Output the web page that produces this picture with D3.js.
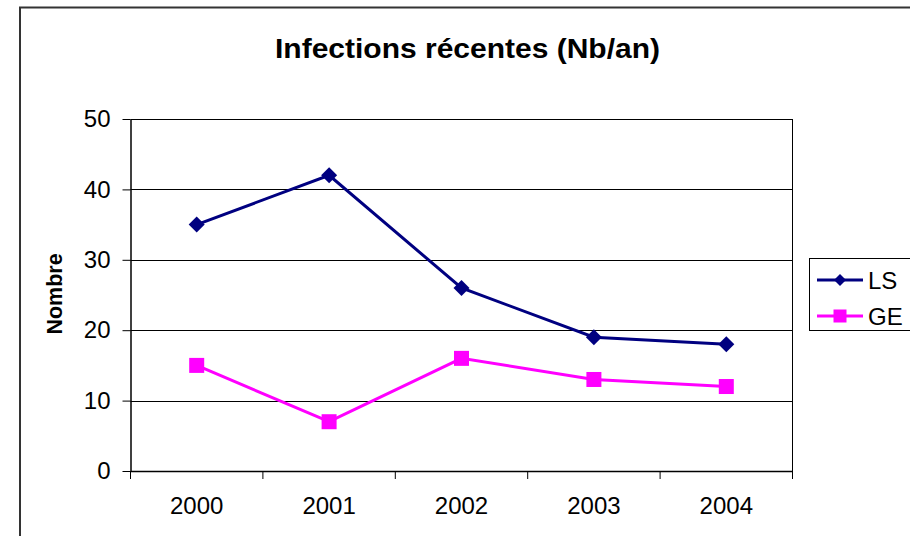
<!DOCTYPE html>
<html><head><meta charset="utf-8">
<script src="https://cdn.jsdelivr.net/npm/d3@7"></script>
<style>html,body{margin:0;padding:0;background:#fff;}svg{display:block;font-family:Arial,"Liberation Sans",sans-serif;}</style>
</head><body>
<svg id="chart" width="910" height="536"></svg>
<script>
const categories = ["2000","2001","2002","2003","2004"];
const seriesNames = ["LS","GE"];
const lsValues = [35,42,26,19,18];
const geValues = [15,7,16,13,12];
const yTicks = [0,10,20,30,40,50];
const titleText = "Infections récentes (Nb/an)";
const yTitle = "Nombre";

const svg = d3.select("#chart");
// outer border
svg.append("rect").attr("x",20).attr("y",7.5).attr("width",920).attr("height",560)
  .attr("fill","#fff").attr("stroke","#333").attr("stroke-width",2);

const x = d3.scaleBand().domain(categories).range([130.5,792.5]);
const y = d3.scaleLinear().domain([0,50]).range([471,119]);

// gridlines
svg.append("g").selectAll("line").data(yTicks.filter(d=>d>0)).join("line")
  .attr("x1",130.5).attr("x2",792.5).attr("y1",d=>Math.round(y(d))+0.5).attr("y2",d=>Math.round(y(d))+0.5)
  .attr("stroke","#000").attr("stroke-width",1);
// right border of plot
svg.append("line").attr("x1",792.5).attr("x2",792.5).attr("y1",119).attr("y2",471.5).attr("stroke","#000");

// y axis
const yAxis = d3.axisLeft(y).tickValues(yTicks).tickSize(8).tickPadding(12).tickSizeOuter(0);
const gy = svg.append("g").attr("transform","translate(130.5,0)").call(yAxis);
gy.select(".domain").attr("stroke","#000").attr("stroke-width",1.5);
gy.selectAll(".tick line").attr("stroke","#000");
gy.selectAll(".tick text").attr("font-size",24).attr("fill","#000").attr("font-family","Arial, 'Liberation Sans', sans-serif");

// x axis
const xAxis = d3.axisBottom(x).tickSize(0).tickPadding(26);
const gx = svg.append("g").attr("transform","translate(0,471)").call(xAxis);
gx.select(".domain").attr("stroke","#000").attr("stroke-width",1.5);
gx.selectAll(".tick text").attr("font-size",24).attr("fill","#000").attr("font-family","Arial, 'Liberation Sans', sans-serif");
// category boundary ticks
const bounds = categories.map(c=>x(c)).concat([x.range()[1]]);
svg.append("g").selectAll("line").data(bounds).join("line")
  .attr("x1",d=>d).attr("x2",d=>d).attr("y1",471).attr("y2",479).attr("stroke","#000");

const cx = c => x(c) + x.bandwidth()/2;
const line = d3.line().x((d,i)=>cx(categories[i])).y(d=>y(d));

// GE series
svg.append("path").datum(geValues).attr("d",line).attr("fill","none").attr("stroke","#FF00FF").attr("stroke-width",3);
svg.append("g").selectAll("rect").data(geValues).join("rect")
  .attr("x",(d,i)=>cx(categories[i])-7.5).attr("y",d=>y(d)-7.5).attr("width",15).attr("height",15).attr("fill","#FF00FF");

// LS series
svg.append("path").datum(lsValues).attr("d",line).attr("fill","none").attr("stroke","#000080").attr("stroke-width",3);
const diamond = (cxv,cyv,r)=>`M${cxv},${cyv-r}L${cxv+r},${cyv}L${cxv},${cyv+r}L${cxv-r},${cyv}Z`;
svg.append("g").selectAll("path").data(lsValues).join("path")
  .attr("d",(d,i)=>diamond(cx(categories[i]),y(d),8)).attr("fill","#000080");

// title
svg.append("text").attr("x",467.5).attr("y",58).attr("text-anchor","middle")
  .attr("font-size",28).attr("font-weight","bold").attr("textLength",385).attr("lengthAdjust","spacingAndGlyphs")
  .text(titleText);

// y title
svg.append("text").attr("transform","translate(62,294) rotate(-90)").attr("text-anchor","middle")
  .attr("font-size",21.5).attr("font-weight","bold").text(yTitle);

// legend
const lg = svg.append("g");
lg.append("rect").attr("x",809.5).attr("y",258.5).attr("width",120).attr("height",72).attr("fill","#fff").attr("stroke","#000");
const legColors = ["#000080","#FF00FF"];
const legY = [280,316];
seriesNames.forEach((n,i)=>{
  lg.append("line").attr("x1",817).attr("x2",863).attr("y1",legY[i]).attr("y2",legY[i]).attr("stroke",legColors[i]).attr("stroke-width",3);
  if(i===0) lg.append("path").attr("d",diamond(840,legY[i],6)).attr("fill",legColors[i]);
  else lg.append("rect").attr("x",833.5).attr("y",legY[i]-6.5).attr("width",13).attr("height",13).attr("fill",legColors[i]);
  lg.append("text").attr("x",868).attr("y",legY[i]+8.5).attr("font-size",24).attr("fill","#000").text(n);
});
</script>
</body></html>
